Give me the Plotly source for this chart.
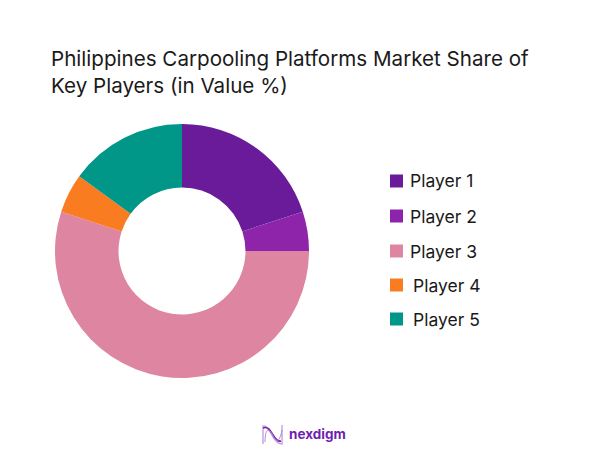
import plotly.graph_objects as go

players = ["Player 1", "Player 2", "Player 3", "Player 4", "Player 5"]
shares = [20, 5, 55, 5, 15]
colors = ["#6a1b9a", "#8e24aa", "#de85a1", "#f97c20", "#009688"]

# the page puts an 8px margin round the figure
W, H = 594, 443
FONT = "Inter"

def px(x):
    return (x - 8) / W

def py(y):
    return 1 - (y - 8) / H

fig = go.Figure(go.Pie(
    labels=players, values=shares, hole=0.5, sort=False, direction="clockwise",
    rotation=0, textinfo="none", hoverinfo="label+percent",
    marker=dict(colors=colors, line=dict(width=0)),
    domain=dict(x=[px(55), px(309)], y=[py(378), py(124)]),
    showlegend=False,
))

# legend drawn by hand, the spacing is wider than plotly's own
legend_x = [389, 389, 389, 389, 389]
text_x = [408, 408, 408, 411, 411]
legend_y = [181, 216, 251, 285, 319]
shapes = []
annotations = []
for name, col, x0, tx, y in zip(players, colors, legend_x, text_x, legend_y):
    shapes.append(dict(type="rect", xref="paper", yref="paper",
                       x0=px(x0 + 1), x1=px(x0 + 14), y0=py(y + 6.5), y1=py(y - 6.5),
                       fillcolor=col, line=dict(width=0)))
    annotations.append(dict(text=name, xref="paper", yref="paper", x=px(tx), y=py(y),
                            xanchor="left", yanchor="middle", showarrow=False,
                            font=dict(family=FONT, size=17.5, color="#1a1a1a")))

# logo
annotations.append(dict(text="<b>nexdigm</b>", xref="paper", yref="paper", x=px(287), y=py(434),
                        xanchor="left", yanchor="middle", showarrow=False,
                        font=dict(family=FONT, size=13.5, color="#6f1fb0")))
logo_paths = [
    ("M 263 444 L 263 426 C 270 424 272 444 282 444 L 282 425", "#c9a6e6", 1.5),
    ("M 263 428 C 272 424 273 443 281 441", "#7b1fa2", 1.6),
    ("M 265 442 C 265 430 268 427 272 434 C 275 440 279 446 282 430", "#b48ad8", 1),
]
for path, col, w in logo_paths:
    d = path.split()
    out = []
    i = 0
    while i < len(d):
        if d[i] in "MLC":
            out.append(d[i])
            i += 1
        else:
            out.append(f"{px(float(d[i])):.4f},{py(float(d[i + 1])):.4f}")
            i += 2
    shapes.append(dict(type="path", xref="paper", yref="paper", path=" ".join(out),
                       line=dict(color=col, width=w)))

fig.update_layout(
    width=W, height=H, autosize=False,
    margin=dict(l=0, r=0, t=0, b=0),
    paper_bgcolor="white", plot_bgcolor="white",
    title=dict(text="Philippines Carpooling Platforms Market Share of<br>Key Players (in Value %)",
               x=px(51), xanchor="left", y=py(66), yanchor="middle",
               font=dict(family=FONT, size=20.6, color="#1a1a1a")),
    shapes=shapes, annotations=annotations,
)
fig.write_html("out.html")
